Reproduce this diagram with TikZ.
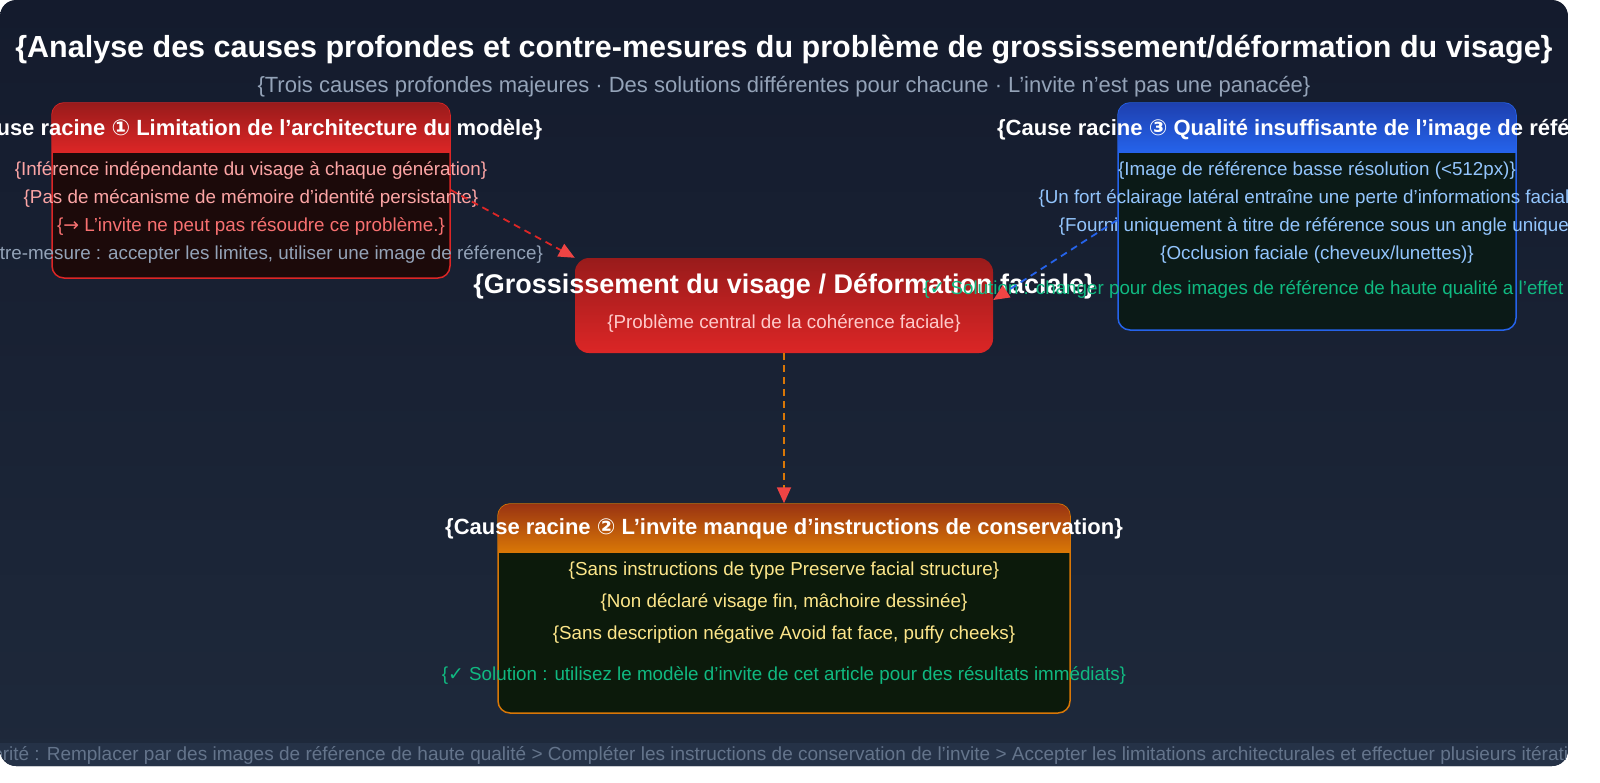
\documentclass[tikz,border=0pt]{standalone}
\usepackage{fontspec}
\setmainfont{Liberation Sans}[Ligatures=ResetAll]
\newfontfamily\dv{DejaVu Sans}
\newcommand\qq{\char"27\relax}
\usetikzlibrary{arrows.meta}
\definecolor{bgtop}{HTML}{141B2D}
\definecolor{bgbot}{HTML}{1E293B}
\definecolor{footbg}{HTML}{253247}
\definecolor{redA}{HTML}{991B1B}
\definecolor{redB}{HTML}{DC2626}
\definecolor{redbody}{HTML}{1C0A0A}
\definecolor{bluA}{HTML}{1E40AF}
\definecolor{bluB}{HTML}{2563EB}
\definecolor{blubody}{HTML}{0B1A17}
\definecolor{orA}{HTML}{9A3412}
\definecolor{orB}{HTML}{D97706}
\definecolor{orbody}{HTML}{0C1A0B}
\definecolor{pinkT}{HTML}{FCA5A5}
\definecolor{coreT}{HTML}{FECACA}
\definecolor{redT}{HTML}{F87171}
\definecolor{grayT}{HTML}{94A3B8}
\definecolor{bluT}{HTML}{93C5FD}
\definecolor{greenT}{HTML}{10B981}
\definecolor{yelT}{HTML}{FDE68A}
\definecolor{footT}{HTML}{64748B}
\definecolor{arrR}{HTML}{EF4444}
\tikzset{
  ttl/.style={font=\fontsize{22}{26}\selectfont\bfseries, text=white},
  ln/.style={font=\fontsize{18.8}{22}\selectfont},
  conn/.style={line width=1.8pt, dash pattern=on 7pt off 5pt, -{Triangle[length=16pt,width=14pt,fill=arrR,color=arrR]}},
}
\begin{document}
\begin{tikzpicture}[x=1pt,y=-1pt]
\useasboundingbox (0,0) rectangle (1600,782);
\fill[white] (0,0) rectangle (1600,782);
\begin{scope}
\clip[rounded corners=16pt] (0,0) rectangle (1568,766);
\shade[top color=bgtop, bottom color=bgbot] (0,0) rectangle (1568,766);
\fill[footbg] (0,743) rectangle (1568,768);
\node[font=\fontsize{19}{22}\selectfont, text=footT] (foot) at (784,755) {\{Priorité : Remplacer par des images de référence de haute qualité > Compléter les instructions de conservation de l\qq invite > Accepter les limitations architecturales et effectuer plusieurs itérations\}};

\node[font=\fontsize{30.5}{34}\selectfont\bfseries, text=white] (title) at (784,50) {\{Analyse des causes profondes et contre-mesures du problème de grossissement/déformation du visage\}};
\node[font=\fontsize{22}{26}\selectfont, text=grayT] (sub) at (784,87) {\{Trois causes profondes majeures · Des solutions différentes pour chacune · L\qq invite n\qq est pas une panacée\}};

% cause 1
\node[draw=redB, line width=1.5pt, fill=redbody, rounded corners=12pt, minimum width=398pt, minimum height=175pt] (c1) at (251,190.5) {};
\begin{scope}
\clip[rounded corners=12pt] (52,103) rectangle (450,278);
\shade[top color=redA, bottom color=redB] (52,103) rectangle (450,152);
\end{scope}
\node[ttl] (c1t) at (251,130) {\{Cause racine {\dv ①} Limitation de l\qq architecture du modèle\}};
\node[ln, text=pinkT] (c1a) at (251,171) {\{Inférence indépendante du visage à chaque génération\}};
\node[ln, text=pinkT] (c1b) at (251,199) {\{Pas de mécanisme de mémoire d\qq identité persistante\}};
\node[ln, text=redT] (c1c) at (251,227) {\{{\dv →} L\qq invite ne peut pas résoudre ce problème.\}};
\node[ln, text=grayT] (c1d) at (251,255) {\{Contre-mesure : accepter les limites, utiliser une image de référence\}};

% cause 3
\node[draw=bluB, line width=1.5pt, fill=blubody, rounded corners=12pt, minimum width=398pt, minimum height=227pt] (c3) at (1317,216.5) {};
\begin{scope}
\clip[rounded corners=12pt] (1118,103) rectangle (1516,330);
\shade[top color=bluA, bottom color=bluB] (1118,103) rectangle (1516,152);
\end{scope}
\node[ttl] (c3t) at (1317,130) {\{Cause racine {\dv ③} Qualité insuffisante de l\qq image de référence\}};
\node[ln, text=bluT] (c3a) at (1317,171) {\{Image de référence basse résolution (<512px)\}};
\node[ln, text=bluT] (c3b) at (1317,199) {\{Un fort éclairage latéral entraîne une perte d\qq informations faciales\}};
\node[ln, text=bluT] (c3c) at (1317,227) {\{Fourni uniquement à titre de référence sous un angle unique\}};
\node[ln, text=bluT] (c3d) at (1317,255) {\{Occlusion faciale (cheveux/lunettes)\}};

% central
\node[rounded corners=14pt, minimum width=418pt, minimum height=95pt] (core) at (784,305.5) {};
\begin{scope}
\clip[rounded corners=14pt] (575,258) rectangle (993,353);
\shade[top color=redA, bottom color=redB] (575,258) rectangle (993,353);
\end{scope}
\node[font=\fontsize{27}{30}\selectfont\bfseries, text=white] (coret) at (784,286) {\{Grossissement du visage / Déformation faciale\}};
\node[ln, text=coreT] (cores) at (784,324) {\{Problème central de la cohérence faciale\}};
\node[ln, text=greenT] (c3s) at (1317,290) {\{{\dv ✓} Solution : changer pour des images de référence de haute qualité a l\qq effet le plus immédiat\}};

% cause 2
\node[draw=orB, line width=1.5pt, fill=orbody, rounded corners=12pt, minimum width=572pt, minimum height=209pt] (c2) at (784,608.5) {};
\begin{scope}
\clip[rounded corners=12pt] (498,504) rectangle (1070,713);
\shade[top color=orA, bottom color=orB] (498,504) rectangle (1070,552);
\end{scope}
\node[ttl] (c2t) at (784,529) {\{Cause racine {\dv ②} L\qq invite manque d\qq instructions de conservation\}};
\node[ln, text=yelT] (c2a) at (784,571) {\{Sans instructions de type Preserve facial structure\}};
\node[ln, text=yelT] (c2b) at (784,603) {\{Non déclaré visage fin, mâchoire dessinée\}};
\node[ln, text=yelT] (c2c) at (784,635) {\{Sans description négative Avoid fat face, puffy cheeks\}};
\node[ln, text=greenT] (c2s) at (784,676) {\{{\dv ✓} Solution : utilisez le modèle d\qq invite de cet article pour des résultats immédiats\}};

% connectors
\draw[conn, draw=redB] (c1.east |- 0,190) -- (core.north west);
\draw[conn, draw=bluB] (c3.west |- 0,220) -- (core.east |- 0,300);
\draw[conn, draw=orB] (core.south) -- (c2.north);
\end{scope}
\end{tikzpicture}
\end{document}
